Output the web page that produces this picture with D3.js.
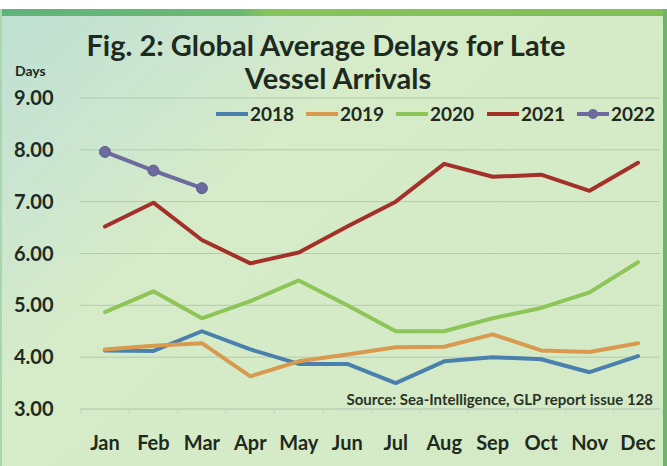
<!DOCTYPE html>
<html><head><meta charset="utf-8">
<script src="https://cdn.jsdelivr.net/npm/d3@7/dist/d3.min.js"></script>
<style>body{margin:0;background:#fff}svg{display:block}</style>
</head><body><svg id="c" width="667" height="466"></svg>
<script>
const months = ["Jan","Feb","Mar","Apr","May","Jun","Jul","Aug","Sep","Oct","Nov","Dec"];
const yTicks = [3,4,5,6,7,8,9];
const s2018 = [4.13,4.12,4.50,4.15,3.87,3.87,3.50,3.92,4.00,3.96,3.71,4.02];
const s2019 = [4.15,4.22,4.27,3.63,3.92,4.05,4.19,4.20,4.44,4.13,4.10,4.27];
const s2020 = [4.87,5.27,4.75,5.08,5.48,5.00,4.50,4.50,4.75,4.95,5.25,5.83];
const s2021 = [6.52,6.98,6.26,5.81,6.02,6.52,7.00,7.73,7.48,7.52,7.21,7.75];
const s2022 = [7.96,7.60,7.26];
const seriesNames = ["2018","2019","2020","2021","2022"];
const seriesColors = ["#4a80ad","#d79a4e","#8dc558","#a3312a","#6d6a9e"];
const seriesData = [s2018,s2019,s2020,s2021,s2022];
const title1 = "Fig. 2: Global Average Delays for Late";
const title2 = "Vessel Arrivals";
const yUnit = "Days";
const source = "Source: Sea-Intelligence, GLP report issue 128";

const svg = d3.select("#c");
const W = 667, H = 466;
const defs = svg.append("defs");
const bg = defs.append("linearGradient").attr("id","bg").attr("x1","0").attr("y1","0").attr("x2","1").attr("y2","0.75");
bg.append("stop").attr("offset","0").attr("stop-color","#bfe0d3");
bg.append("stop").attr("offset","0.25").attr("stop-color","#cde6cf");
bg.append("stop").attr("offset","0.4").attr("stop-color","#d6ebc8");
bg.append("stop").attr("offset","1").attr("stop-color","#d4eac6");
const topbar = defs.append("linearGradient").attr("id","tb").attr("x1","0").attr("x2","1");
topbar.append("stop").attr("offset","0").attr("stop-color","#5fb47c");
topbar.append("stop").attr("offset","0.36").attr("stop-color","#6cb872");
topbar.append("stop").attr("offset","0.4").attr("stop-color","#86c35c");
topbar.append("stop").attr("offset","1").attr("stop-color","#80c057");

svg.append("rect").attr("x",0).attr("y",9).attr("width",W).attr("height",H-9).attr("fill","url(#bg)");
svg.append("rect").attr("x",0).attr("y",9).attr("width",W).attr("height",7).attr("fill","url(#tb)");
svg.append("rect").attr("x",663).attr("y",9).attr("width",4).attr("height",H-9).attr("fill","#6fb36a");
svg.append("rect").attr("x",0).attr("y",9).attr("width",2).attr("height",H-9).attr("fill","#a8d6ae");

const x = d3.scalePoint().domain(months).range([80.75,662.25]).padding(0.5);
const y = d3.scaleLinear().domain([3,9]).range([409,98]);

// gridlines
svg.append("g").selectAll("line").data(yTicks).join("line")
  .attr("x1",80).attr("x2",660).attr("y1",d=>y(d)).attr("y2",d=>y(d))
  .attr("stroke",d=>d===3?"#a9c2ad":"#b2cbb0").attr("stroke-width",1);
// category ticks on baseline
const step = x.step();
svg.append("g").selectAll("line").data(months.concat(["_end"])).join("line")
  .attr("x1",(d,i)=>80.75+i*step).attr("x2",(d,i)=>80.75+i*step)
  .attr("y1",y(3)).attr("y2",y(3)+5).attr("stroke","#c4d8c2").attr("stroke-width",1);

// y labels
svg.append("g").selectAll("text").data(yTicks).join("text")
  .attr("x",14).attr("y",d=>y(d)+7).attr("font-family","Lato, sans-serif").attr("font-weight","bold")
  .attr("font-size",20).attr("fill","#1f2a1f").text(d=>d.toFixed(2));
svg.append("text").attr("x",15).attr("y",76).attr("font-family","Lato, sans-serif").attr("font-weight","bold")
  .attr("font-size",14).attr("fill","#1f2a1f").text(yUnit);

// x labels
svg.append("g").selectAll("text").data(months).join("text")
  .attr("x",d=>x(d)).attr("y",450).attr("text-anchor","middle").attr("font-family","Lato, sans-serif")
  .attr("font-weight","bold").attr("font-size",20).attr("fill","#1f2a1f").text(d=>d);

// title
svg.append("text").attr("x",326).attr("y",56).attr("text-anchor","middle").attr("font-family","Lato, sans-serif")
  .attr("font-weight","bold").attr("font-size",29).attr("fill","#1e2a1e").text(title1);
svg.append("text").attr("x",338).attr("y",89).attr("text-anchor","middle").attr("font-family","Lato, sans-serif")
  .attr("font-weight","bold").attr("font-size",29).attr("fill","#1e2a1e").text(title2);

// source
svg.append("text").attr("x",653).attr("y",405).attr("text-anchor","end").attr("font-family","Lato, sans-serif")
  .attr("font-weight","bold").attr("font-size",15).attr("fill","#2a3328").text(source);

// lines
const line = d3.line().x((d,i)=>x(months[i])).y(d=>y(d));
seriesData.forEach((data,k)=>{
  svg.append("path").datum(data).attr("d",line).attr("fill","none")
    .attr("stroke",seriesColors[k]).attr("stroke-width",4).attr("stroke-linejoin","round").attr("stroke-linecap","round");
});
svg.append("g").selectAll("circle").data(s2022).join("circle")
  .attr("cx",(d,i)=>x(months[i])).attr("cy",d=>y(d)).attr("r",5.5)
  .attr("fill",seriesColors[4]).attr("stroke","#5e5b90").attr("stroke-width",1);

// legend
const legX = [216,306,396,487,577];
const lg = svg.append("g");
seriesNames.forEach((n,k)=>{
  const gx = legX[k];
  lg.append("line").attr("x1",gx).attr("x2",gx+32).attr("y1",114).attr("y2",114)
    .attr("stroke",seriesColors[k]).attr("stroke-width",4);
  if(k===4) lg.append("circle").attr("cx",gx+16).attr("cy",114).attr("r",5).attr("fill",seriesColors[k]);
  lg.append("text").attr("x",gx+34).attr("y",121).attr("font-family","Lato, sans-serif").attr("font-weight","bold")
    .attr("font-size",19).attr("fill","#1f2a1f").text(n);
});
</script></body></html>
